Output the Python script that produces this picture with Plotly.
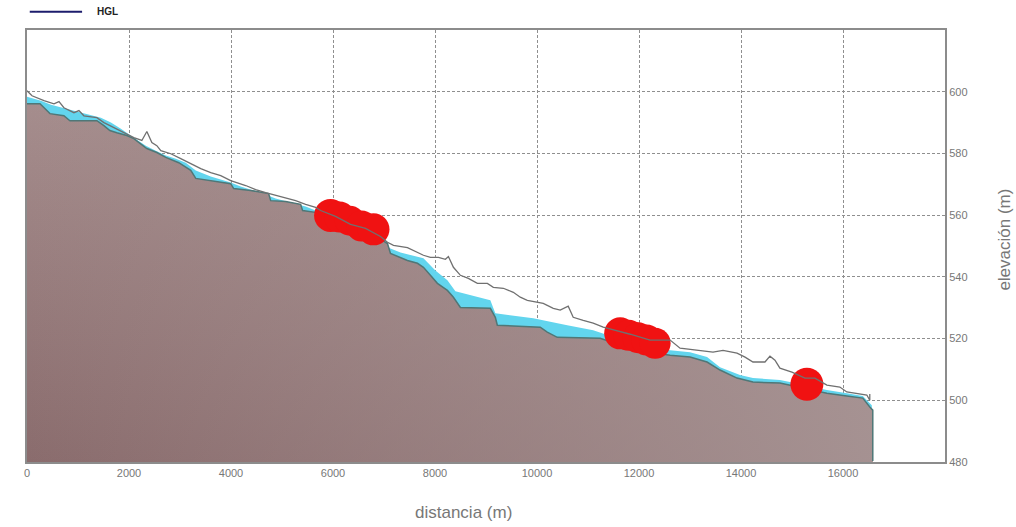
import plotly.graph_objects as go

# ---- data ----
# pipe / terrain top (brown fill top edge)
pipe_x = [0, 255, 450, 724, 842, 1371, 1508, 1625, 1762, 1958, 2095, 2213, 2350, 2546, 2722,
          2976, 3211, 3309, 3602, 3994, 4053, 4386, 4738, 4778, 5071, 5365, 5404, 5659, 5952,
          6344, 6833, 7068, 7127, 7460, 7656, 7773, 7910, 8047, 8243, 8361, 8498, 9085, 9183,
          9222, 10064, 10201, 10397, 11239, 11631, 12218, 12610, 13001, 13334, 13589, 13922,
          14235, 14763, 14959, 15351, 15684, 16075, 16388, 16525, 16584]
pipe_y = [596.1, 596.1, 592.9, 592.2, 590.6, 590.6, 589.0, 587.4, 586.7, 585.8, 584.8, 583.2,
          581.6, 580.3, 578.7, 577.0, 574.5, 571.9, 571.2, 570.2, 568.6, 568.0, 567.0, 564.7,
          564.4, 563.5, 561.5, 560.9, 559.6, 556.7, 553.4, 550.8, 547.6, 545.3, 544.4, 543.1,
          540.5, 537.9, 535.6, 533.4, 530.1, 529.8, 526.9, 524.3, 523.7, 522.1, 520.4, 520.1,
          517.9, 515.6, 514.6, 514.0, 512.4, 509.8, 507.2, 505.9, 505.6, 504.9, 503.3, 502.3,
          501.4, 500.7, 497.8, 496.8]

# water surface (cyan top)
water_x = [0, 274, 470, 764, 1057, 1449, 1645, 1841, 2095, 2330, 2526, 2722, 2918, 3113, 3309,
           3602, 3994, 4190, 4582, 4875, 5169, 5463, 5659, 5952, 6540, 7127, 7323, 7773, 8008,
           8243, 8400, 9085, 9183, 9927, 10593, 11102, 11278, 11631, 12218, 12610, 13001, 13334,
           13589, 13980, 14235, 14763, 14959, 15684, 16075, 16388, 16565]
water_y = [598.4, 597.1, 595.8, 594.5, 593.2, 591.6, 590.0, 588.0, 585.1, 582.5, 580.9, 579.3,
           578.3, 577.0, 574.5, 572.5, 570.6, 569.3, 567.3, 565.4, 564.1, 562.8, 561.5, 560.2,
           555.7, 549.2, 547.9, 546.0, 542.1, 538.9, 535.3, 532.4, 528.2, 526.6, 524.3, 522.7,
           521.7, 519.5, 517.2, 516.2, 515.6, 514.0, 510.7, 508.2, 507.2, 506.6, 505.9, 503.3,
           502.3, 501.4, 498.4]

# gray jagged line
line_x = [0, 98, 333, 529, 627, 724, 920, 1018, 1116, 1371, 1508, 1703, 1899, 2095, 2252, 2350,
          2448, 2546, 2624, 2820, 3015, 3113, 3211, 3407, 3603, 3799, 3994, 4288, 4484, 4680,
          4875, 5071, 5267, 5463, 5659, 5757, 6050, 6344, 6638, 6931, 7068, 7186, 7460, 7773,
          7910, 8067, 8204, 8263, 8361, 8498, 8654, 8831, 9027, 9144, 9340, 9536, 9672, 9810,
          10005, 10123, 10319, 10456, 10612, 10710, 10906, 11102, 11298, 11533, 11827, 12218,
          12610, 12805, 13138, 13451, 13647, 13922, 14079, 14235, 14470, 14568, 14666, 14763,
          14998, 15253, 15449, 15684, 15938, 16075, 16467, 16525, 16525]
line_y = [600.3, 598.7, 597.1, 596.1, 596.8, 594.8, 593.2, 593.9, 592.2, 591.6, 590.0, 588.4,
          586.7, 585.1, 584.2, 587.1, 583.5, 582.5, 580.9, 579.9, 578.3, 577.4, 576.7, 575.1,
          573.8, 572.8, 571.2, 569.6, 568.3, 567.3, 566.4, 565.4, 564.7, 563.5, 562.5, 561.5,
          559.6, 557.0, 555.7, 553.1, 551.2, 550.2, 549.5, 547.0, 546.3, 546.3, 545.7, 546.6,
          543.1, 540.5, 539.5, 537.9, 537.9, 536.6, 536.3, 535.0, 533.4, 532.4, 531.8, 531.4,
          529.8, 529.2, 530.5, 526.9, 525.9, 525.0, 523.7, 522.7, 521.4, 519.5, 519.5, 516.9,
          516.2, 515.6, 516.2, 515.3, 514.0, 512.4, 512.4, 514.3, 513.0, 510.4, 509.1, 507.2,
          507.2, 504.9, 504.3, 502.7, 501.7, 500.0, 502.0]

# red highlighted zones (circle centres)
zone_x = [5952, 6130, 6330, 6560, 6794,
          11631, 11800, 11980, 12150, 12316,
          15292]
zone_y = [559.9, 559.4, 558.2, 556.5, 555.4,
          521.7, 521.1, 520.3, 519.5, 518.5,
          505.2]
zone_size = [33, 31, 30, 31, 32,
             32, 31, 31, 31, 31,
             33]

x_ticks = [0, 2000, 4000, 6000, 8000, 10000, 12000, 14000, 16000]
y_ticks = [480, 500, 520, 540, 560, 580, 600]

x_end = pipe_x[-1]
base = 480

fig = go.Figure()

# cyan water band
fig.add_trace(go.Scatter(x=[0, x_end], y=[base, base], mode="lines",
                         line=dict(width=0), hoverinfo="skip", showlegend=False))
fig.add_trace(go.Scatter(x=water_x + [water_x[-1]], y=water_y + [base], mode="lines",
                         line=dict(width=0), fill="tonexty", fillcolor="#62d5ee",
                         hoverinfo="skip", showlegend=False))

# brown terrain fill (vertical gradient)
fig.add_trace(go.Scatter(x=[0, x_end], y=[base, base], mode="lines",
                         line=dict(width=0), hoverinfo="skip", showlegend=False))
fig.add_trace(go.Scatter(x=pipe_x + [x_end], y=pipe_y + [base], mode="lines",
                         line=dict(width=0), fill="tonexty",
                         fillgradient=dict(type="vertical",
                                           colorscale=[[0, "#8a6c6d"], [1, "#a68e8e"]],
                                           start=base, stop=600),
                         hoverinfo="skip", showlegend=False))
# horizontal lightening overlay
fig.add_trace(go.Scatter(x=[0, x_end], y=[base, base], mode="lines",
                         line=dict(width=0), hoverinfo="skip", showlegend=False))
fig.add_trace(go.Scatter(x=pipe_x + [x_end], y=pipe_y + [base], mode="lines",
                         line=dict(width=0), fill="tonexty",
                         fillgradient=dict(type="horizontal",
                                           colorscale=[[0, "rgba(170,152,152,0)"],
                                                       [1, "rgba(170,152,152,0.85)"]]),
                         hoverinfo="skip", showlegend=False))

# pipe edge line
fig.add_trace(go.Scatter(x=pipe_x + [x_end], y=pipe_y + [base + 0.3], mode="lines",
                         line=dict(color="#4f7777", width=1.5),
                         hoverinfo="skip", showlegend=False))

# red zones
fig.add_trace(go.Scatter(x=zone_x, y=zone_y, mode="markers",
                         marker=dict(color="#f01212", size=zone_size, opacity=1,
                                     line=dict(width=0)),
                         hoverinfo="skip", showlegend=False))

# gray line
fig.add_trace(go.Scatter(x=line_x, y=line_y, mode="lines",
                         line=dict(color="#707070", width=1.3),
                         hoverinfo="skip", showlegend=False))

axis_font = dict(family="Liberation Sans, Arial, sans-serif", size=11, color="#777777")

fig.update_xaxes(range=[0, 18000], tickvals=x_ticks, ticktext=[str(v) for v in x_ticks],
                 showgrid=True, gridcolor="#8f8f8f", griddash="3px,2px", gridwidth=1,
                 zeroline=False, showline=True, linecolor="#8c8c8c", linewidth=2, mirror=True,
                 ticks="", tickfont=axis_font)
fig.update_yaxes(range=[480, 620], tickvals=y_ticks, side="right",
                 showgrid=True, gridcolor="#8f8f8f", griddash="3px,2px", gridwidth=1,
                 zeroline=False, showline=True, linecolor="#8c8c8c", linewidth=2, mirror=True,
                 ticks="", tickfont=axis_font)

title_font = dict(family="Liberation Sans, Arial, sans-serif", size=17, color="#777777")
fig.add_annotation(text="distancia (m)", xref="paper", yref="paper", x=0.475, y=-0.116,
                   showarrow=False, font=title_font, xanchor="center", yanchor="middle")
fig.add_annotation(text="elevación (m)", xref="paper", yref="paper", x=1.065, y=0.514,
                   showarrow=False, font=title_font, textangle=-90,
                   xanchor="center", yanchor="middle")

# legend
fig.add_shape(type="line", xref="paper", yref="paper", x0=0.003, x1=0.06, y0=1.042, y1=1.042,
              line=dict(color="#1c1c6c", width=2))
fig.add_annotation(text="<b>HGL</b>", xref="paper", yref="paper", x=0.074, y=1.042,
                   showarrow=False, xanchor="left", yanchor="middle",
                   font=dict(family="Liberation Sans, Arial, sans-serif", size=10, color="#222222"))

fig.update_layout(width=1016, height=527, margin=dict(l=27, r=71, t=30, b=65),
                  paper_bgcolor="white", plot_bgcolor="white", showlegend=False,
                  hovermode=False)

# remove the default 8px page margin so the figure fills the window exactly
fig.write_html("out.html", config={"displayModeBar": False},
               post_script="document.body.style.margin='0';document.body.style.overflow='hidden';")
